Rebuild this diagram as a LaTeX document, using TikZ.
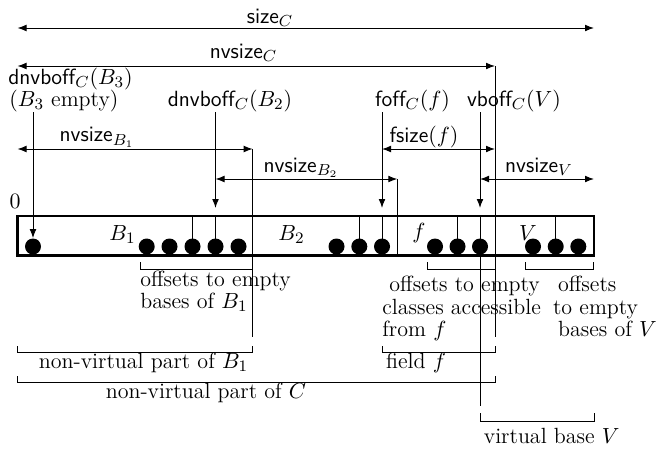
\documentclass[tikz,border=0pt]{standalone}
\usepackage{fontspec}
\usetikzlibrary{arrows.meta}
\begin{document}
\begin{tikzpicture}[x=0.5pt,y=-0.5pt,
  every node/.style={font=\fontsize{11}{11}\selectfont, inner sep=0pt},
  dot/.style={circle, fill=black, inner sep=0pt, minimum size=8pt},
  conn/.style={line width=0.5pt},
  arr/.style={conn, -{Latex[length=4.5pt,width=3.4pt]}},
  darr/.style={conn, {Latex[length=4.5pt,width=3.4pt]}-{Latex[length=4.5pt,width=3.4pt]}},
  boxline/.style={line width=1.1pt},
  lbl/.style={anchor=base},
  txt/.style={anchor=base west}]
\useasboundingbox (0,0) rectangle (657,450);

% box
\coordinate (tl) at (17.5,216);
\coordinate (br) at (594,255.5);
\draw[boxline] (tl) rectangle (br);

% dots
\foreach \n/\x in {1/33, 2/146.7, 3/169.5, 4/192.5, 5/215.5, 6/238.5, 7/336.5, 8/359.3, 9/382, 10/435, 11/457.5, 12/480, 13/533, 14/555.7, 15/578.3}
  \node[dot] (c\n) at (\x,246.5) {};

% lines from box top to dots
\foreach \n in {4,5,8,9,11,12,14}
  \draw[conn] (c\n |- tl) -- (c\n.center);

% helper coordinates
\coordinate (tipy) at (0,208);
\coordinate (vbend) at (0,405.5);

% separators
\coordinate (sepA) at (252.7,149);
\coordinate (sepAb) at (252.7,337);
\coordinate (sepB) at (397.3,179);
\coordinate (sepC) at (495,66);
\coordinate (sepCb) at (495,337);
\draw[conn] (sepA) -- (sepAb);
\draw[conn] (sepB) -- (sepB |- br);
\draw[conn] (sepC) -- (sepCb);
\draw[conn] (c12.center) -- (c12 |- vbend);

% top dimension arrows
\coordinate (sizeL) at (17.5,28);
\coordinate (sizeR) at (594,28);
\draw[darr] (sizeL) -- (sizeR);
\node[lbl] (sizeC) at (270,23) {$\mathsf{size}_C$};

\coordinate (nvCL) at (17.5,66);
\draw[darr] (nvCL) -- (sepC);
\node[lbl] (nvsizeC) at (243.5,58.5) {$\mathsf{nvsize}_C$};

\coordinate (nvBoneL) at (17.5,149);
\draw[darr] (nvBoneL) -- (sepA);
\node[lbl] (nvsizeBone) at (97,141.7) {$\mathsf{nvsize}_{B_1}$};

\coordinate (nvBtwoL) at (215.5,179);
\draw[darr] (nvBtwoL) -- (sepB);
\node[lbl] (nvsizeBtwo) at (301,172) {$\mathsf{nvsize}_{B_2}$};

\coordinate (fsL) at (382,149);
\coordinate (fsR) at (495,149);
\draw[darr] (fsL) -- (fsR);
\node[lbl] (fsize) at (424,142) {$\mathsf{fsize}(f)$};

\coordinate (nvVL) at (480,179);
\coordinate (nvVR) at (594,179);
\draw[darr] (nvVL) -- (nvVR);
\node[lbl] (nvsizeV) at (539,172) {$\mathsf{nvsize}_V$};

% offset labels and down arrows
\node[txt] (dBthree) at (8,84.5) {$\mathsf{dnvboff}_C(B_3)$};
\node[txt] (eBthree) at (9,106.5) {$(B_3$ empty$)$};
\draw[arr] (eBthree.south -| c1) -- (c1.north);

\node[lbl] (dBtwo) at (230,106.5) {$\mathsf{dnvboff}_C(B_2)$};
\draw[arr] (dBtwo.south -| c5) -- (c5 |- tipy);

\node[lbl] (foff) at (412.5,106.5) {$\mathsf{foff}_C(f)$};
\draw[arr] (foff.south -| c9) -- (c9 |- tipy);

\node[lbl] (vboff) at (514,106.5) {$\mathsf{vboff}_C(V)$};
\draw[arr] (vboff.south -| c12) -- (c12 |- tipy);

% labels in/around box
\node[lbl] (zero) at (15,208) {$0$};
\node[lbl] (Bone) at (122.5,240) {$B_1$};
\node[lbl] (Btwo) at (291.5,240) {$B_2$};
\node[lbl] (fl) at (419,238) {$f$};
\node[lbl] (Vl) at (528,240) {$V$};

% brackets under box
\coordinate (oBa) at (140,262);   \coordinate (oBb) at (252.7,269.5);
\draw[conn] (oBa) |- (oBb) -- (oBb |- oBa);
\coordinate (ofa) at (427.3,262); \coordinate (ofb) at (495,269.5);
\draw[conn] (ofa) |- (ofb) -- (ofb |- ofa);
\coordinate (oVa) at (525.7,262); \coordinate (oVb) at (593.3,269.5);
\draw[conn] (oVa) |- (oVb) -- (oVb |- oVa);

\node[txt] (tB1a) at (140,286) {offsets to empty};
\node[txt] (tB1b) at (140,308) {bases of $B_1$};
\node[txt] (tfa) at (389,291.7) {offsets to empty};
\node[txt] (tfb) at (382,314) {classes accessible};
\node[txt] (tfc) at (382,336) {from $f$};
\node[txt] (tVa) at (557.7,291.7) {offsets};
\node[txt] (tVb) at (552.7,314) {to empty};
\node[txt] (tVc) at (557.7,336) {bases of $V$};

% lower brackets
\coordinate (nBa) at (17.5,346); \coordinate (nBb) at (252.7,352.7);
\draw[conn] (nBa) |- (nBb) -- (nBb |- nBa);
\node[lbl] (nvpB) at (143.5,368) {non-virtual part of $B_1$};

\coordinate (ffa) at (382,346); \coordinate (ffb) at (495,352.7);
\draw[conn] (ffa) |- (ffb) -- (ffb |- ffa);
\node[lbl] (fieldf) at (416,368) {field $f$};

\coordinate (nCa) at (17.5,376); \coordinate (nCb) at (495,382.7);
\draw[conn] (nCa) |- (nCb) -- (nCb |- nCa);
\node[lbl] (nvpC) at (206,398) {non-virtual part of $C$};

\coordinate (vba) at (480,413); \coordinate (vbb) at (594,421.7);
\draw[conn] (vba) |- (vbb) -- (vbb |- vba);
\node[lbl] (vbV) at (551.7,443) {virtual base $V$};
\end{tikzpicture}
\end{document}
